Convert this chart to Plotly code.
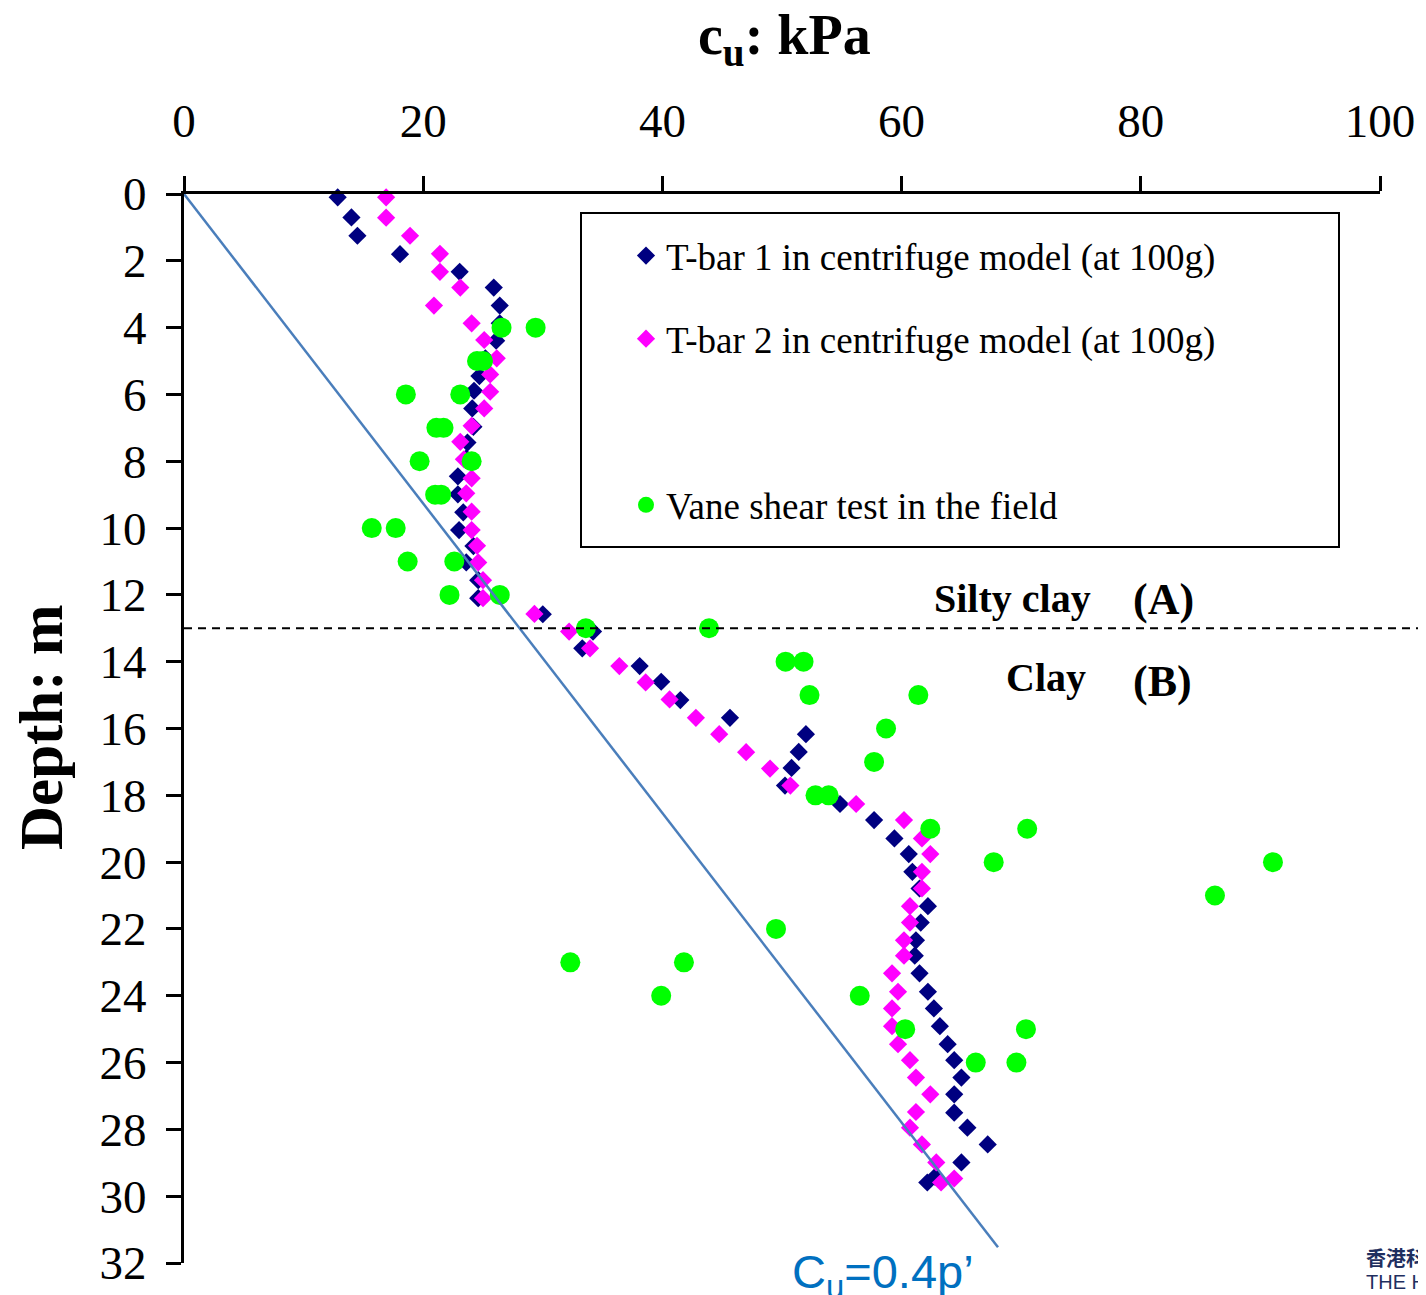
import plotly.graph_objects as go

# ---------------- data ----------------
tbar1_depth = [0.1, 0.7, 1.25, 1.8, 2.33, 2.8, 3.34, 3.87, 4.39, 4.92, 5.45, 5.89, 6.42, 6.97,
               7.44, 7.91, 8.45, 8.99, 9.53, 10.06, 10.54, 11.03, 11.56, 12.1, 12.58, 13.1, 13.6,
               14.13, 14.6, 15.15, 15.68, 16.17, 16.7, 17.18, 17.71, 18.26, 18.74, 19.29, 19.76,
               20.29, 20.79, 21.32, 21.81, 22.34, 22.8, 23.33, 23.88, 24.38, 24.91, 25.45, 25.93,
               26.45, 26.95, 27.5, 27.95, 28.45, 28.99, 29.42, 29.59]
tbar1_cu = [12.85, 14.0, 14.5, 18.06, 23.05, 25.9, 26.4, 26.4, 26.1, 25.2, 24.7, 24.25, 24.1, 24.2,
            23.7, 23.6, 22.9, 22.9, 23.35, 23.0, 24.2, 23.6, 24.6, 24.6, 30.0, 34.2, 33.3,
            38.1, 39.9, 41.5, 45.65, 52.0, 51.4, 50.8, 50.25, 54.85, 57.7, 59.4, 60.6,
            60.9, 61.5, 62.2, 61.6, 61.2, 61.1, 61.5, 62.2, 62.7, 63.2, 63.85, 64.4,
            65.0, 64.4, 64.4, 65.5, 67.2, 65.0, 62.8, 62.15]

tbar2_depth = [0.1, 0.71, 1.25, 1.79, 2.33, 2.8, 3.34, 3.87, 4.37, 4.92, 5.4, 5.92, 6.42, 6.94,
               7.42, 7.94, 8.51, 8.96, 9.51, 10.06, 10.53, 11.03, 11.56, 12.1, 12.57, 13.1, 13.6,
               14.13, 14.62, 15.13, 15.68, 16.17, 16.71, 17.2, 17.71, 18.26, 18.74, 19.29, 19.76,
               20.29, 20.79, 21.32, 21.81, 22.34, 22.8, 23.33, 23.88, 24.38, 24.91, 25.45, 25.93,
               26.45, 26.95, 27.48, 27.95, 28.45, 28.99, 29.47, 29.59]
tbar2_cu = [16.9, 16.9, 18.9, 21.4, 21.4, 23.1, 20.9, 24.05, 25.1, 26.15, 25.6, 25.6, 25.1, 24.05,
            23.1, 23.4, 24.05, 23.6, 24.05, 24.05, 24.5, 24.6, 25.0, 25.0, 29.3, 32.2, 33.95,
            36.4, 38.6, 40.6, 42.8, 44.75, 47.0, 49.0, 50.7, 56.2, 60.2, 61.7, 62.4,
            61.7, 61.7, 60.7, 60.7, 60.2, 60.2, 59.2, 59.7, 59.2, 59.2, 59.7, 60.7,
            61.2, 62.4, 61.2, 60.7, 61.7, 62.9, 64.4, 63.3]

vane_depth = [4, 4, 5, 5, 6, 6, 7, 7, 8, 8, 9, 9, 10, 10, 11, 11, 12, 12, 13, 13,
              14, 14, 15, 15, 16, 17, 18, 18, 19, 19, 20, 20, 21, 22, 23, 23, 24, 24,
              25, 25, 26, 26]
vane_cu = [26.55, 29.4, 24.5, 25.0, 18.55, 23.1, 21.1, 21.7, 19.7, 24.05, 21.0, 21.5, 15.7, 17.7,
           18.7, 22.6, 22.2, 26.4, 33.6, 43.9, 50.3, 51.8, 52.3, 61.4, 58.7, 57.7, 52.8, 53.9,
           62.4, 70.5, 67.7, 91.05, 86.2, 49.5, 32.3, 41.8, 39.9, 56.5, 60.3, 70.4, 66.2, 69.6]

cu_line_depth = [0, 31.53]
cu_line_cu = [0, 68.06]

boundary_depth = 13
x_range = [0, 100]
y_range = [32, 0]
x_ticks = [0, 20, 40, 60, 80, 100]
y_ticks = list(range(0, 33, 2))

SERIF = "Times New Roman, Liberation Serif, serif"
SANS = "Arial, Liberation Sans, sans-serif"

fig = go.Figure()

fig.add_trace(go.Scatter(
    x=tbar1_cu, y=tbar1_depth, mode="markers", name="T-bar 1 in centrifuge model (at 100g)",
    marker=dict(symbol="diamond", size=14, color="#000080", line=dict(width=0)),
    cliponaxis=False, legendgroup="a", legendrank=1))
fig.add_trace(go.Scatter(
    x=tbar2_cu, y=tbar2_depth, mode="markers", name="T-bar 2 in centrifuge model (at 100g)",
    marker=dict(symbol="diamond", size=14, color="#FF00FF", line=dict(width=0)),
    cliponaxis=False, legendgroup="b", legendrank=2))
fig.add_trace(go.Scatter(
    x=[None], y=[None], mode="markers", name=" ",
    marker=dict(size=1, color="rgba(0,0,0,0)"), legendgroup="c", legendrank=3))
fig.add_trace(go.Scatter(
    x=vane_cu, y=vane_depth, mode="markers", name="Vane shear test in the field",
    marker=dict(symbol="circle", size=20, color="#00FF00", line=dict(width=0)),
    cliponaxis=False, legendgroup="d", legendrank=4))
fig.add_trace(go.Scatter(
    x=cu_line_cu, y=cu_line_depth, mode="lines", showlegend=False,
    line=dict(color="#4A7EBB", width=2.5)))

# the page body has an 8px margin, so the figure starts at (8, 8) in the window
OFF = 8
W, H = 1426 - OFF, 1295 - OFF
ML, MT = 184 - OFF, 194 - OFF
PW, PH = 1196, 1069
MR, MB = W - ML - PW, H - MT - PH


def px_x(px):
    return (px - OFF - ML) / PW


def px_y(py):
    return 1 - (py - OFF - MT) / PH


boundary_paper_y = 1 - (boundary_depth - y_range[1]) / (y_range[0] - y_range[1])

fig.update_layout(
    width=W, height=H,
    margin=dict(l=ML, r=MR, t=MT, b=MB, pad=0, autoexpand=False),
    paper_bgcolor="white", plot_bgcolor="white",
    font=dict(family=SERIF, color="black"),
    showlegend=True,
    legend=dict(
        x=px_x(626), y=px_y(225), xanchor="left", yanchor="top",
        bgcolor="rgba(0,0,0,0)", borderwidth=0,
        font=dict(family=SERIF, size=37, color="black"),
        tracegroupgap=32, traceorder="grouped",
    ),
    xaxis=dict(
        side="top", range=x_range, tickvals=x_ticks, ticktext=[str(v) for v in x_ticks],
        showline=True, linecolor="black", linewidth=3, mirror=False,
        ticks="outside", ticklen=15, tickwidth=3, tickcolor="black",
        showgrid=False, zeroline=False, automargin=False,
        tickfont=dict(family=SERIF, size=47, color="black"),
        ticklabelstandoff=20,
    ),
    yaxis=dict(
        range=y_range, tickvals=y_ticks, ticktext=[str(v) for v in y_ticks],
        showline=True, linecolor="black", linewidth=3, mirror=False,
        ticks="outside", ticklen=15, tickwidth=3, tickcolor="black",
        showgrid=False, zeroline=False, automargin=False,
        tickfont=dict(family=SERIF, size=47, color="black"),
        ticklabelstandoff=10,
    ),
    shapes=[
        dict(type="rect", xref="paper", yref="paper",
             x0=px_x(581), x1=px_x(1339), y0=px_y(547), y1=px_y(213),
             line=dict(color="black", width=2), fillcolor="rgba(0,0,0,0)", layer="below"),
        dict(type="line", xref="paper", yref="paper",
             x0=0, x1=px_x(1426), y0=boundary_paper_y, y1=boundary_paper_y,
             line=dict(color="black", width=2, dash="8px,6px")),
    ],
    annotations=[
        dict(text="<b>c<sub>u</sub>: kPa</b>", xref="paper", yref="paper",
             x=px_x(784), y=px_y(39), xanchor="center", yanchor="middle", showarrow=False,
             font=dict(family=SERIF, size=56, color="black")),
        dict(text="<b>Depth: m</b>", xref="paper", yref="paper", textangle=-90,
             x=px_x(41), y=px_y(727), xanchor="center", yanchor="middle", showarrow=False,
             font=dict(family=SERIF, size=61, color="black")),
        dict(text="<b>Silty clay</b>", xref="x", yref="y", x=76.0, y=12.1,
             xanchor="right", yanchor="middle", showarrow=False,
             font=dict(family=SERIF, size=40, color="black")),
        dict(text="<b>(A)</b>", xref="x", yref="y", x=79.2, y=12.15,
             xanchor="left", yanchor="middle", showarrow=False,
             font=dict(family=SERIF, size=44, color="black")),
        dict(text="<b>Clay</b>", xref="x", yref="y", x=75.6, y=14.46,
             xanchor="right", yanchor="middle", showarrow=False,
             font=dict(family=SERIF, size=40, color="black")),
        dict(text="<b>(B)</b>", xref="x", yref="y", x=79.2, y=14.58,
             xanchor="left", yanchor="middle", showarrow=False,
             font=dict(family=SERIF, size=44, color="black")),
        dict(text="C<sub>u</sub>=0.4p\u2019", xref="paper", yref="paper",
             x=px_x(790), y=px_y(1243), xanchor="left", yanchor="top", showarrow=False,
             font=dict(family=SANS, size=47, color="#0070C0")),
        dict(text="<b>香港科技大學</b>", xref="paper", yref="paper",
             x=px_x(1364), y=px_y(1257), xanchor="left", yanchor="middle", showarrow=False,
             font=dict(family="Noto Sans CJK TC", size=20, color="#1F2F5F")),
        dict(text="THE HONG KONG UNIVERSITY", xref="paper", yref="paper",
             x=px_x(1364), y=px_y(1282), xanchor="left", yanchor="middle", showarrow=False,
             font=dict(family=SANS, size=20, color="#1F2F5F")),
    ],
)

fig.write_html("out.html")
